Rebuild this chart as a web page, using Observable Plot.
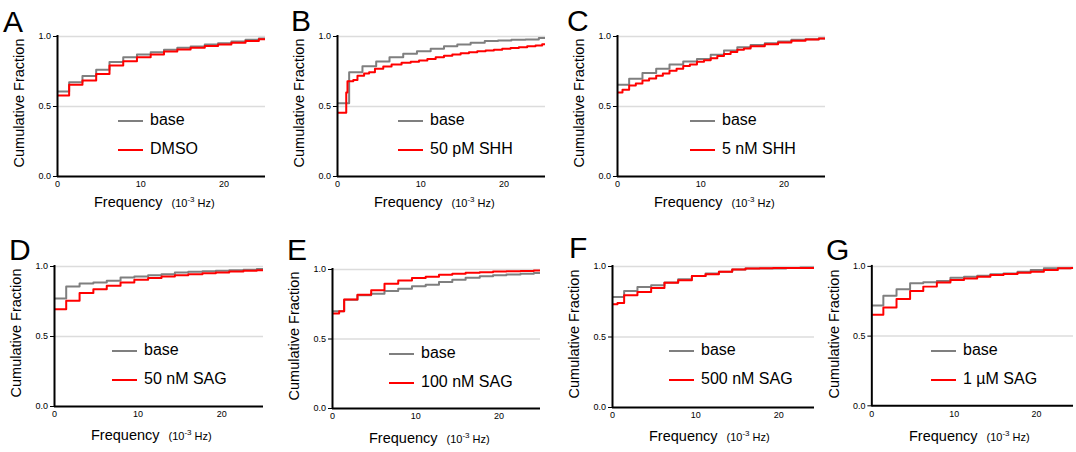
<!DOCTYPE html>
<html><head><meta charset="utf-8">
<script src="https://cdn.jsdelivr.net/npm/d3@7"></script>
<script src="https://cdn.jsdelivr.net/npm/@observablehq/plot@0.6"></script>
<style>
html,body{margin:0;padding:0;background:#fff;overflow:hidden}
#root{position:relative;width:1076px;height:452px;font-family:"Liberation Sans",Arial,Helvetica,sans-serif;color:#000}
.abs{position:absolute;white-space:nowrap;line-height:1}
</style></head><body><div id="root"></div>
<script>
// ---------- data ----------
const freqGrid = [0, 1.4, 3.0, 4.65, 6.25, 7.9, 9.55, 11.2, 12.8, 14.4, 16.0, 17.7, 19.3, 20.9, 22.6, 24.2];
const panelLetters = ["A", "B", "C", "D", "E", "F", "G"];
const baseLabel = "base";
const treatmentLabels = ["DMSO", "50 pM SHH", "5 nM SHH", "50 nM SAG", "100 nM SAG", "500 nM SAG", "1 µM SAG"];
const yTicks = [0, 0.5, 1.0];
const xTicks = [0, 10, 20];
const gridValues = [0.5, 1.0];
const xLabelMain = "Frequency";
const yLabel = "Cumulative Fraction";

const baseA = [0.607, 0.674, 0.717, 0.762, 0.817, 0.852, 0.871, 0.888, 0.905, 0.919, 0.929, 0.943, 0.952, 0.964, 0.976, 0.986];
const treatA = [0.579, 0.655, 0.686, 0.733, 0.793, 0.824, 0.852, 0.871, 0.893, 0.907, 0.919, 0.933, 0.943, 0.955, 0.967, 0.981];

const baseB = [0.524, 0.745, 0.788, 0.821, 0.852, 0.876, 0.895, 0.912, 0.931, 0.943, 0.955, 0.967, 0.971, 0.976, 0.979, 0.99];
const treatBFreq = [0, 1.05, 1.2, 1.9, 2.4, 3.2, 3.8, 4.5, 5.5, 6.5, 7.7, 8.8, 9.8, 10.8, 11.8, 12.8, 13.8, 14.8, 15.8, 16.8, 17.8, 18.8, 19.8, 20.8, 21.8, 22.8, 23.8, 24.6];
const treatB = [0.455, 0.60, 0.68, 0.69, 0.72, 0.735, 0.745, 0.77, 0.786, 0.80, 0.812, 0.82, 0.829, 0.84, 0.852, 0.862, 0.871, 0.88, 0.888, 0.894, 0.90, 0.906, 0.912, 0.918, 0.924, 0.93, 0.936, 0.945];

const baseC = [0.655, 0.698, 0.74, 0.769, 0.8, 0.821, 0.84, 0.869, 0.9, 0.924, 0.94, 0.952, 0.964, 0.976, 0.981, 0.986];
const treatCFreq = [0, 0.6, 1.4, 2.2, 3.0, 3.8, 4.65, 5.45, 6.25, 7.1, 7.9, 8.7, 9.55, 10.4, 11.2, 12.0, 12.8, 13.6, 14.4, 15.2, 16.0, 17.7, 19.3, 20.9, 22.6, 24.2];
const treatC = [0.60, 0.62, 0.65, 0.665, 0.685, 0.70, 0.72, 0.735, 0.755, 0.77, 0.79, 0.80, 0.82, 0.83, 0.845, 0.86, 0.875, 0.89, 0.905, 0.915, 0.93, 0.945, 0.958, 0.969, 0.978, 0.985];

const baseD = [0.771, 0.857, 0.879, 0.886, 0.898, 0.921, 0.929, 0.938, 0.945, 0.957, 0.962, 0.966, 0.969, 0.973, 0.976, 0.983];
const treatD = [0.695, 0.755, 0.81, 0.838, 0.862, 0.886, 0.905, 0.917, 0.929, 0.938, 0.945, 0.952, 0.957, 0.964, 0.969, 0.974];

const baseE = [0.70, 0.783, 0.814, 0.826, 0.845, 0.862, 0.88, 0.89, 0.91, 0.926, 0.94, 0.952, 0.958, 0.964, 0.97, 0.975];
const treatEFreq = [0, 0.8, 1.4, 3.0, 4.65, 6.25, 7.9, 9.55, 11.2, 12.8, 14.4, 16.0, 17.7, 19.3, 20.9, 22.6, 24.2];
const treatE = [0.683, 0.70, 0.785, 0.819, 0.85, 0.898, 0.921, 0.938, 0.948, 0.962, 0.969, 0.976, 0.981, 0.986, 0.988, 0.99, 0.993];

const baseF = [0.784, 0.827, 0.855, 0.867, 0.886, 0.91, 0.933, 0.95, 0.962, 0.979, 0.986, 0.986, 0.986, 0.99, 0.993, 0.993];
const treatFFreq = [0, 0.6, 1.4, 3.0, 4.65, 6.25, 7.9, 9.55, 11.2, 12.8, 14.4, 16.0, 17.7, 19.3, 20.9, 22.6, 24.2];
const treatF = [0.732, 0.741, 0.796, 0.82, 0.848, 0.884, 0.903, 0.933, 0.945, 0.962, 0.979, 0.986, 0.988, 0.99, 0.99, 0.99, 0.99];

const baseG = [0.72, 0.789, 0.836, 0.879, 0.886, 0.895, 0.919, 0.926, 0.933, 0.943, 0.95, 0.962, 0.974, 0.986, 0.986, 0.988];
const treatG = [0.653, 0.705, 0.767, 0.824, 0.855, 0.884, 0.903, 0.914, 0.926, 0.938, 0.945, 0.955, 0.962, 0.974, 0.986, 0.988];

const series = [
  {baseX: freqGrid, baseY: baseA, treatX: freqGrid, treatY: treatA},
  {baseX: freqGrid, baseY: baseB, treatX: treatBFreq, treatY: treatB},
  {baseX: freqGrid, baseY: baseC, treatX: treatCFreq, treatY: treatC},
  {baseX: freqGrid, baseY: baseD, treatX: freqGrid, treatY: treatD},
  {baseX: freqGrid, baseY: baseE, treatX: treatEFreq, treatY: treatE},
  {baseX: freqGrid, baseY: baseF, treatX: treatFFreq, treatY: treatF},
  {baseX: freqGrid, baseY: baseG, treatX: freqGrid, treatY: treatG}
];

// ---------- layout (pixel positions) ----------
const layout = [
  {x0: 57,  x1: 265,  top: 36,  bot: 176, xmax: 25,   letX: 3,   letY: 32,  legX: 61, labY: 31},
  {x0: 337, x1: 545,  top: 36,  bot: 176, xmax: 25,   letX: 291, letY: 31,  legX: 61, labY: 31},
  {x0: 617, x1: 825,  top: 36,  bot: 176, xmax: 25,   letX: 567, letY: 31,  legX: 73, labY: 31},
  {x0: 54,  x1: 263,  top: 266, bot: 406, xmax: 25,   letX: 9,   letY: 260, legX: 58, labY: 34},
  {x0: 332, x1: 540,  top: 269, bot: 408, xmax: 25,   letX: 287, letY: 260, legX: 57, labY: 35},
  {x0: 612, x1: 814,  top: 266, bot: 407, xmax: 24.3, letX: 569, letY: 258, legX: 57, labY: 34},
  {x0: 872, x1: 1076, top: 266, bot: 407, xmax: 24.5, letX: 826, letY: 260, legX: 59, labY: 34}
];

const FONT = '"Liberation Sans", Arial, Helvetica, sans-serif';
const GRAY = "#7f7f7f", RED = "#ff0000";
const root = document.getElementById("root");

function textAt(html, left, baseline, fs, extraStyle = "") {
  const d = document.createElement("div");
  d.className = "abs";
  d.style.cssText = `left:${left}px;top:${baseline - 0.8465 * fs}px;font-size:${fs}px;${extraStyle}`;
  d.innerHTML = html;
  root.appendChild(d);
  return d;
}
function hline(left, y, w, color) {
  const d = document.createElement("div");
  d.className = "abs";
  d.style.cssText = `left:${left}px;top:${y - 1}px;width:${w}px;height:2px;background:${color}`;
  root.appendChild(d);
}
function toRows(xs, ys, xmax) {
  const rows = xs.map((f, i) => ({f, c: ys[i]}));
  rows.push({f: xmax, c: ys[ys.length - 1]});
  return rows;
}

layout.forEach((L, i) => {
  const S = series[i];
  const mL = 60, mR = 3, mT = 8, mB = 30;
  const w = mL + (L.x1 - L.x0) + mR;
  const h = mT + (L.bot - L.top) + mB;
  const plot = Plot.plot({
    width: w, height: h,
    marginLeft: mL, marginRight: mR, marginTop: mT, marginBottom: mB,
    x: {domain: [0, L.xmax], ticks: xTicks, tickSize: 0, tickPadding: 4.5, tickFormat: d => String(d), label: null},
    y: {domain: [0, 1], ticks: yTicks, tickSize: 4, tickPadding: 2.5, tickFormat: d => d.toFixed(1), label: null},
    style: {fontFamily: FONT, fontSize: "9px", color: "#000", background: "transparent", overflow: "visible"},
    marks: [
      Plot.ruleY(gridValues, {stroke: "#dcdcdc", strokeWidth: 1.5}),
      Plot.line(toRows(S.baseX, S.baseY, L.xmax), {x: "f", y: "c", curve: "step-after", stroke: GRAY, strokeWidth: 2, clip: true}),
      Plot.line(toRows(S.treatX, S.treatY, L.xmax), {x: "f", y: "c", curve: "step-after", stroke: RED, strokeWidth: 2, clip: true}),
      Plot.ruleX([0], {stroke: "#000", strokeWidth: 2, strokeLinecap: "square"}),
      Plot.ruleY([0], {stroke: "#000", strokeWidth: 2})
    ]
  });
  const holder = document.createElement("div");
  holder.className = "abs";
  holder.style.left = (L.x0 - mL) + "px";
  holder.style.top = (L.top - mT) + "px";
  holder.appendChild(plot);
  root.appendChild(holder);

  // panel letter
  textAt(panelLetters[i], L.letX, L.letY, 30);

  // y label (rotated)
  const cy = (L.top + L.bot) / 2 - 3;
  const yl = document.createElement("div");
  yl.className = "abs";
  yl.style.cssText = `left:${L.x0 - 38}px;top:${cy}px;font-size:14.5px;transform:translate(-50%,-50%) rotate(-90deg);`;
  yl.textContent = yLabel;
  root.appendChild(yl);

  // x label
  textAt(`${xLabelMain}<span style="font-size:11px;margin-left:9px">(10<sup style="font-size:8px;vertical-align:5px;line-height:0">-3</sup> Hz)</span>`,
    L.x0 + 37, L.bot + L.labY, 14.5);

  // legend
  const lx = L.x0 + L.legX;
  const yb = L.top + 85, yr = L.top + 114;
  hline(lx, yb, 25, GRAY);
  hline(lx, yr, 25, RED);
  textAt(baseLabel, lx + 32, yb + 4.5, 16);
  textAt(treatmentLabels[i], lx + 32, yr + 4.5, 16);
});
</script>
</body></html>
